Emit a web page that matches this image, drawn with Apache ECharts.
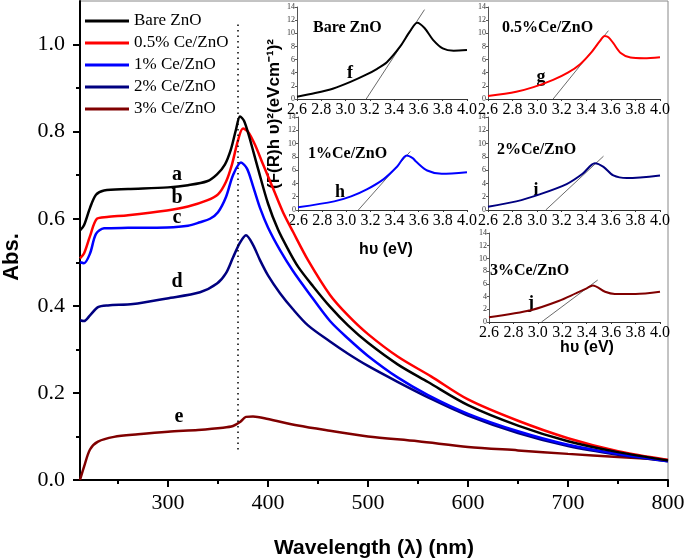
<!DOCTYPE html>
<html>
<head>
<meta charset="utf-8">
<script src="https://cdn.jsdelivr.net/npm/echarts/dist/echarts.min.js"></script>
<style>
  html, body { margin: 0; padding: 0; background: #fff; }
  #grafico { width: 685px; height: 559px; }
</style>
</head>
<body>
<div id="grafico"></div>
<script>
//Espectros de absorbancia (grafico principal)
var nombres = ['Bare ZnO', '0.5% Ce/ZnO', '1% Ce/ZnO', '2% Ce/ZnO', '3% Ce/ZnO'];
var colores = ['#000000', '#ff0000', '#0000ff', '#000080', '#800000'];

var lambdaA = [212, 216, 222, 228, 236, 260, 300, 320, 339, 349, 357, 363, 368, 372, 376, 381, 390, 400, 410, 420, 430, 445, 462, 480, 500, 530, 560, 600, 650, 700, 750, 800];
var absA = [0.573, 0.585, 0.625, 0.655, 0.665, 0.668, 0.672, 0.677, 0.686, 0.702, 0.725, 0.76, 0.805, 0.835, 0.825, 0.79, 0.715, 0.635, 0.575, 0.53, 0.49, 0.445, 0.398, 0.355, 0.315, 0.265, 0.225, 0.172, 0.125, 0.089, 0.064, 0.045];

var lambdaB = [212, 216, 222, 229, 239, 260, 299, 320, 339, 350, 358, 364, 370, 375, 380, 387, 395, 405, 415, 425, 440, 462, 480, 500, 530, 563, 600, 650, 700, 750, 800];
var absB = [0.509, 0.52, 0.56, 0.60, 0.604, 0.608, 0.619, 0.628, 0.642, 0.656, 0.685, 0.725, 0.78, 0.807, 0.80, 0.77, 0.725, 0.67, 0.615, 0.57, 0.505, 0.425, 0.378, 0.335, 0.283, 0.238, 0.185, 0.136, 0.096, 0.066, 0.046];

var lambdaC = [212, 216, 222, 228, 236, 260, 299, 320, 332, 342, 350, 358, 365, 373, 379, 385, 392, 400, 412, 425, 440, 462, 480, 500, 530, 560, 600, 650, 700, 750, 800];
var absC = [0.50, 0.498, 0.52, 0.565, 0.578, 0.579, 0.58, 0.584, 0.592, 0.60, 0.615, 0.65, 0.70, 0.729, 0.715, 0.675, 0.625, 0.58, 0.528, 0.48, 0.432, 0.365, 0.325, 0.285, 0.235, 0.195, 0.152, 0.112, 0.081, 0.06, 0.043];

var lambdaD = [212, 216, 222, 230, 240, 265, 299, 332, 349, 358, 365, 372, 378, 385, 392, 400, 412, 425, 440, 462, 480, 500, 530, 560, 600, 650, 700, 750, 800];
var absD = [0.367, 0.365, 0.378, 0.397, 0.401, 0.404, 0.417, 0.431, 0.451, 0.475, 0.511, 0.545, 0.562, 0.54, 0.505, 0.47, 0.429, 0.392, 0.355, 0.318, 0.29, 0.262, 0.225, 0.19, 0.148, 0.108, 0.078, 0.058, 0.043];

var lambdaE = [212, 216, 222, 230, 246, 270, 300, 330, 355, 365, 372, 378, 385, 400, 430, 462, 500, 550, 600, 650, 700, 750, 800];
var absE = [0.0, 0.03, 0.07, 0.088, 0.099, 0.105, 0.111, 0.115, 0.12, 0.124, 0.133, 0.145, 0.146, 0.14, 0.125, 0.113, 0.1, 0.089, 0.076, 0.068, 0.06, 0.053, 0.046];

var etiquetasX = [300, 400, 500, 600, 700, 800];
var menoresX = [250, 350, 450, 550, 650, 750];
var etiquetasY = [0, 0.2, 0.4, 0.6, 0.8, 1.0];
var menoresY = [0.1, 0.3, 0.5, 0.7, 0.9];
var lineaPunteada = [370, 0.07, 1.05];

//Graficos insertados (F(R)hv)^2 contra hv
var energia1 = [2.6, 2.75, 2.9, 3.04, 3.17, 3.26, 3.34, 3.45, 3.53, 3.59, 3.65, 3.72, 3.80, 3.89, 4.0];
var fr1 = [0.35, 0.9, 1.6, 2.6, 3.7, 4.6, 5.6, 8.0, 10.3, 11.6, 10.8, 9.0, 7.7, 7.35, 7.45];
var energia2 = [2.6, 2.83, 2.97, 3.13, 3.25, 3.35, 3.45, 3.51, 3.55, 3.58, 3.62, 3.68, 3.76, 3.87, 4.0];
var fr2 = [0.45, 1.1, 1.8, 2.9, 4.0, 5.3, 7.3, 8.8, 9.6, 9.4, 8.5, 7.0, 6.3, 6.2, 6.35];
var energia3 = [2.6, 2.9, 3.04, 3.17, 3.31, 3.42, 3.50, 3.55, 3.58, 3.67, 3.79, 4.0];
var fr3 = [0.4, 1.3, 2.05, 3.1, 4.65, 6.5, 8.2, 7.8, 7.25, 5.95, 5.45, 5.7];
var energia4 = [2.6, 2.83, 3.02, 3.24, 3.37, 3.47, 3.54, 3.62, 3.73, 4.0];
var fr4 = [0.5, 1.3, 2.35, 3.9, 5.45, 7.05, 6.5, 5.2, 4.8, 5.2];
var energia5 = [2.6, 2.95, 3.17, 3.31, 3.40, 3.45, 3.55, 3.63, 3.8, 4.0];
var fr5 = [0.75, 1.9, 3.3, 4.5, 5.3, 5.75, 4.75, 4.4, 4.4, 4.75];

//tangentes [E0, v0, E1, v1]
var tangentes = [
    [3.17, 0, 3.65, 13.6],
    [3.13, 0, 3.58, 10.4],
    [3.10, 0, 3.53, 8.8],
    [3.07, 0, 3.54, 8.1],
    [3.03, 0, 3.49, 6.6]
];
var titulosInsertos = ['Bare ZnO', '0.5%Ce/ZnO', '1%Ce/ZnO', '2%Ce/ZnO', '3%Ce/ZnO'];
var letrasInsertos = ['f', 'g', 'h', 'i', 'j'];
var letrasCurvas = ['a', 'b', 'c', 'd', 'e'];

function pares(xs, ys) {
    return xs.map(function (x, i) { return [x, ys[i]]; });
}

var serif = 'Liberation Serif';
var sans = 'Liberation Sans';

var dom = document.getElementById('grafico');
var myChart = echarts.init(dom, null, { renderer: 'canvas' });

// posiciones de los graficos insertados
var cajas = [
    { left: 297, top: 7, width: 170, height: 92 },
    { left: 488, top: 7, width: 172, height: 92 },
    { left: 298, top: 117, width: 169, height: 93 },
    { left: 488, top: 117, width: 172, height: 93 },
    { left: 489, top: 233, width: 171, height: 89 }
];
var posTitulos = [[313, 28], [502, 28], [308, 154], [497, 150], [490, 271]];
var posLetras = [[350, 73], [541, 77], [340, 192], [536, 190], [531, 303]];
var posCurvas = [[177, 175], [177, 198], [177, 218], [177, 282], [179, 417]];

var grids = [{ left: 80, top: 1, width: 588, height: 479, show: true, borderColor: '#888', borderWidth: 1, outerBoundsMode: 'none' }];
cajas.forEach(function (c) {
    grids.push({ left: c.left, top: c.top, width: c.width, height: c.height, outerBoundsMode: 'none' });
});

var xAxes = [
    {
        type: 'value', gridIndex: 0, min: 212, max: 800,
        name: 'Wavelength (\u03bb) (nm)', nameLocation: 'middle', nameGap: 58,
        nameTextStyle: { fontFamily: sans, fontWeight: 'bold', fontSize: 21, color: '#000' },
        axisLine: { lineStyle: { color: '#000', width: 2 } },
        axisTick: { customValues: etiquetasX, length: 7, lineStyle: { color: '#000', width: 2 } },
        axisLabel: { customValues: etiquetasX, margin: 12, fontFamily: serif, fontSize: 22, color: '#000' },
        splitLine: { show: false }
    },
    {
        type: 'value', gridIndex: 0, min: 212, max: 800, position: 'bottom',
        axisLine: { show: false },
        axisTick: { customValues: menoresX, length: 4, lineStyle: { color: '#000', width: 2 } },
        axisLabel: { show: false },
        splitLine: { show: false }
    }
];
var yAxes = [
    {
        type: 'value', gridIndex: 0, min: 0, max: 1.1,
        axisLine: { show: true, lineStyle: { color: '#000', width: 2 } },
        axisTick: { show: true, customValues: etiquetasY, length: 7, lineStyle: { color: '#000', width: 2 } },
        axisLabel: {
            customValues: etiquetasY, margin: 15,
            fontFamily: serif, fontSize: 22, color: '#000',
            formatter: function (v) { return v.toFixed(1); }
        },
        splitLine: { show: false }
    },
    {
        type: 'value', gridIndex: 0, min: 0, max: 1.1, position: 'left',
        axisLine: { show: false },
        axisTick: { show: true, customValues: menoresY, length: 4, lineStyle: { color: '#000', width: 2 } },
        axisLabel: { show: false },
        splitLine: { show: false }
    }
];
for (var i = 0; i < 5; i++) {
    xAxes.push({
        type: 'value', gridIndex: i + 1, min: 2.6, max: 4.0, interval: 0.2,
        axisLine: { lineStyle: { color: '#333', width: 1 } },
        axisTick: { length: 2, lineStyle: { color: '#333' } },
        axisLabel: {
            margin: 3, fontFamily: serif, fontSize: 16, color: '#000',
            formatter: function (v) { return v.toFixed(1); }
        },
        splitLine: { show: false }
    });
    yAxes.push({
        type: 'value', gridIndex: i + 1, min: 0, max: 14, interval: 2,
        axisLine: { show: true, lineStyle: { color: '#555', width: 1 } },
        axisTick: { show: true, length: 2, lineStyle: { color: '#555' } },
        axisLabel: { margin: 2, fontFamily: serif, fontSize: 8, color: '#333' },
        splitLine: { show: false }
    });
}

var lambdas = [lambdaA, lambdaB, lambdaC, lambdaD, lambdaE];
var absorbancias = [absA, absB, absC, absD, absE];
var energias = [energia1, energia2, energia3, energia4, energia5];
var frs = [fr1, fr2, fr3, fr4, fr5];

var series = [];
for (var k = 0; k < 5; k++) {
    var s = {
        name: nombres[k], type: 'line', xAxisIndex: 0, yAxisIndex: 0,
        data: pares(lambdas[k], absorbancias[k]),
        smooth: 0.3, showSymbol: false, symbol: 'none',
        lineStyle: { color: colores[k], width: 2.5 },
        itemStyle: { color: colores[k] },
        z: 5 - k
    };
    if (k === 0) {
        s.markLine = {
            silent: true, symbol: 'none', label: { show: false },
            lineStyle: { color: '#000', type: [1.5, 4], width: 1.5 },
            data: [[{ coord: [lineaPunteada[0], lineaPunteada[1]] }, { coord: [lineaPunteada[0], lineaPunteada[2]] }]]
        };
    }
    series.push(s);
}
for (var k = 0; k < 5; k++) {
    series.push({
        name: 'inserto' + k, type: 'line', xAxisIndex: k + 2, yAxisIndex: k + 2,
        data: pares(energias[k], frs[k]),
        smooth: 0.3, showSymbol: false, symbol: 'none',
        lineStyle: { color: colores[k], width: 2 }
    });
    var t = tangentes[k];
    series.push({
        name: 'tangente' + k, type: 'line', xAxisIndex: k + 2, yAxisIndex: k + 2,
        data: [[t[0], t[1]], [t[2], t[3]]],
        showSymbol: false, symbol: 'none',
        lineStyle: { color: '#444', width: 0.8 }, z: 1
    });
}

var textos = [];
for (var k = 0; k < 5; k++) {
    textos.push({
        type: 'text', x: posCurvas[k][0], y: posCurvas[k][1],
        style: { text: letrasCurvas[k], font: 'bold 20px ' + serif, fill: '#000', align: 'center', verticalAlign: 'middle' }
    });
    textos.push({
        type: 'text', x: posTitulos[k][0], y: posTitulos[k][1],
        style: { text: titulosInsertos[k], font: 'bold 16px ' + serif, fill: '#000', align: 'left', verticalAlign: 'middle' }
    });
    textos.push({
        type: 'text', x: posLetras[k][0], y: posLetras[k][1],
        style: { text: letrasInsertos[k], font: 'bold 18px ' + serif, fill: '#000', align: 'center', verticalAlign: 'middle' }
    });
}
textos.push({
    type: 'text', x: 12, y: 257, rotation: Math.PI / 2,
    style: { text: 'Abs.', font: 'bold 22px ' + sans, fill: '#000', align: 'center', verticalAlign: 'middle' }
});
textos.push({
    type: 'text', x: 274, y: 114, rotation: Math.PI / 2,
    style: { text: '(F(R)h \u03c5)\u00b2(eVcm\u207b\u00b9)\u00b2', font: 'bold 17px ' + sans, fill: '#000', align: 'center', verticalAlign: 'middle' }
});
textos.push({
    type: 'text', x: 386, y: 250,
    style: { text: 'h\u03c5 (eV)', font: 'bold 16px ' + sans, fill: '#000', align: 'center', verticalAlign: 'middle' }
});
textos.push({
    type: 'text', x: 587, y: 348,
    style: { text: 'h\u03c5 (eV)', font: 'bold 16px ' + sans, fill: '#000', align: 'center', verticalAlign: 'middle' }
});

var option = {
    animation: false,
    backgroundColor: '#fff',
    legend: {
        data: nombres,
        orient: 'vertical',
        left: 85,
        top: 12,
        padding: 0,
        icon: 'rect',
        itemWidth: 44,
        itemHeight: 3,
        itemGap: 4,
        textStyle: { fontFamily: serif, fontSize: 17, color: '#000', lineHeight: 18 }
    },
    grid: grids,
    xAxis: xAxes,
    yAxis: yAxes,
    series: series,
    graphic: textos
};

if (option && typeof option === 'object') {
    myChart.setOption(option);
}
</script>
</body>
</html>
